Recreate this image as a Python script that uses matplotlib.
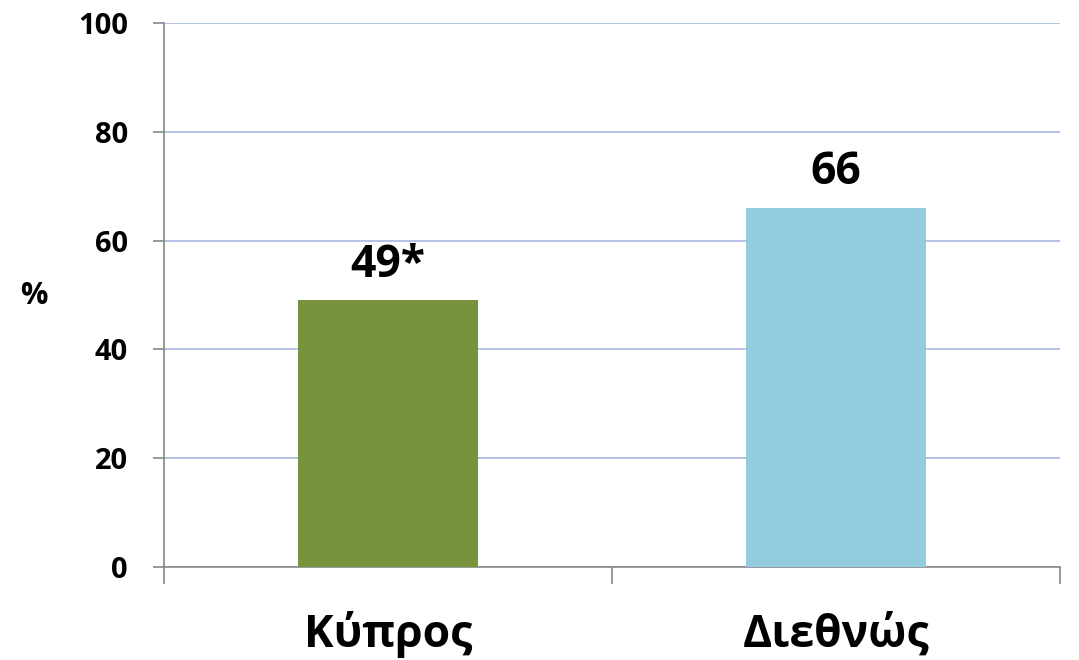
import matplotlib.pyplot as plt
import matplotlib.transforms as mtransforms

plt.rcParams['font.family'] = ['Open Sans', 'DejaVu Sans']

categories = ['Κύπρος', 'Διεθνώς']
values = [49, 66]
value_labels = ['49*', '66']
bar_colors = ['#77933C', '#93CDDD']
yticks = [0, 20, 40, 60, 80, 100]

fig = plt.figure(figsize=(10.79, 6.6), dpi=100)
ax = fig.add_axes([0.152, 0.141, 0.8304, 0.824])

x = list(range(len(categories)))
ax.bar(x, values, width=0.4, color=bar_colors, zorder=3)

# value labels above bars
for i, (v, lab) in enumerate(zip(values, value_labels)):
    ax.annotate(lab, (i, v), xytext=(0, 17), textcoords='offset points',
                ha='center', va='baseline', fontsize=32, fontweight='bold')

ax.set_xlim(-0.5, len(categories) - 0.5)
ax.set_ylim(0, 100)
ax.set_yticks(yticks)
ax.set_yticklabels([str(t) for t in yticks], fontsize=21, fontweight='bold')
ax.grid(axis='y', color='#A4B8E0', linewidth=1.2, zorder=0)

# boundary ticks only, category names placed by hand below
ax.set_xticks([-0.5, 0.5, 1.5])
ax.set_xticklabels([])
ax.tick_params(axis='x', length=12, color='#888888', width=1.2)
ax.tick_params(axis='y', length=8, color='#888888', width=1.2, pad=18)

trans = mtransforms.blended_transform_factory(ax.transData, fig.transFigure)
for i, c in enumerate(categories):
    ax.text(i, 13 / 660, c, transform=trans, ha='center', va='baseline',
            fontsize=32, fontweight='bold')

for s in ['top', 'right']:
    ax.spines[s].set_visible(False)
for s in ['left', 'bottom']:
    ax.spines[s].set_color('#888888')
    ax.spines[s].set_linewidth(1.2)

fig.text(34 / 1079, 1 - 296 / 660, '%', ha='center', va='center',
         fontsize=22, fontweight='bold')

fig.savefig('out.png', dpi=100)
